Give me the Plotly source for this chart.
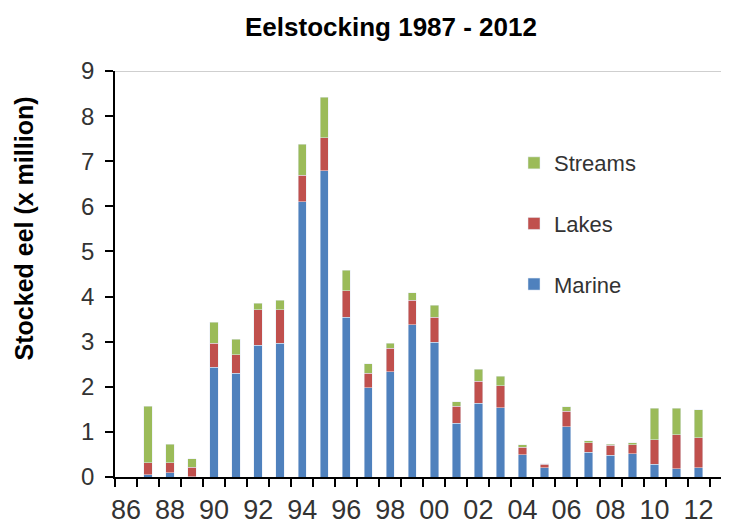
import plotly.graph_objects as go

# --- Data ---
years = list(range(1987, 2013))
marine = [0.05, 0.09, 0.01, 2.43, 2.30, 2.92, 2.96, 6.10, 6.79, 3.54, 1.98, 2.33, 3.37,
          2.99, 1.19, 1.64, 1.54, 0.49, 0.20, 1.11, 0.55, 0.48, 0.52, 0.28, 0.18, 0.21]
lakes = [0.27, 0.23, 0.21, 0.53, 0.41, 0.79, 0.75, 0.59, 0.73, 0.59, 0.32, 0.52, 0.55,
         0.55, 0.38, 0.48, 0.48, 0.17, 0.08, 0.35, 0.21, 0.22, 0.20, 0.55, 0.76, 0.66]
streams = [1.25, 0.41, 0.18, 0.47, 0.34, 0.14, 0.21, 0.69, 0.90, 0.45, 0.21, 0.11, 0.17,
           0.27, 0.10, 0.27, 0.21, 0.06, 0.01, 0.10, 0.04, 0.03, 0.04, 0.69, 0.58, 0.62]

tick_years = list(range(1986, 2013, 2))
tick_labels = ["86", "88", "90", "92", "94", "96", "98", "00", "02", "04", "06", "08", "10", "12"]

FONT = "Liberation Sans, Arial, sans-serif"

fig = go.Figure()
# stacked bottom -> top; legend rank puts Streams first
for name, vals, col, rank in [("Marine", marine, "#4F81BD", 3),
                              ("Lakes", lakes, "#C0504D", 2),
                              ("Streams", streams, "#9BBB59", 1)]:
    fig.add_trace(go.Bar(x=years, y=vals, name=name, legendgroup=name, legendrank=rank,
                         marker=dict(color=col), width=0.38))

# the page body has an 8px margin, so the figure is sized a bit smaller
fig.update_layout(
    barmode="stack",
    width=721, height=517,
    margin=dict(l=107, r=0, t=63, b=43),
    plot_bgcolor="white", paper_bgcolor="white",
    font=dict(family=FONT, color="#333333"),
    title=dict(text="<b>Eelstocking 1987 - 2012</b>", x=383 / 721, xanchor="center",
               y=1 - 19 / 517, yanchor="middle", font=dict(size=26, color="black")),
    legend=dict(x=(514 - 115) / 614, xanchor="left", y=0.825, yanchor="top",
                traceorder="grouped", tracegroupgap=29,
                font=dict(size=22, color="#333333"), bgcolor="rgba(0,0,0,0)"),
    showlegend=True,
)

fig.update_xaxes(
    range=[1985.5, 2013.38], showgrid=False, zeroline=False,
    showline=True, linecolor="black", linewidth=1.5,
    tickmode="array", tickvals=tick_years, ticktext=tick_labels, ticks="",
    tickfont=dict(size=27, color="#333333"), ticklabelstandoff=8,
    minor=dict(ticks="outside", ticklen=8, tickcolor="black", tickwidth=1.5,
               tick0=1985.5, dtick=1, showgrid=False),
)
fig.update_yaxes(
    range=[0, 9], dtick=1, showgrid=False, zeroline=False,
    showline=True, linecolor="black", linewidth=1.5,
    ticks="outside", ticklen=8, tickcolor="black", tickwidth=1.5,
    tickfont=dict(size=24, color="#333333"), ticklabelstandoff=6,
)

fig.add_shape(type="line", xref="paper", yref="y", x0=0, x1=1, y0=9, y1=9,
              line=dict(color="#BFBFBF", width=1.5))

fig.add_annotation(text="<b>Stocked eel (x million)</b>", textangle=-90,
                   xref="paper", yref="paper", x=(24 - 115) / 614, y=(481 - 230) / 410,
                   xanchor="center", yanchor="middle", showarrow=False,
                   font=dict(size=25, color="black"))

fig.write_html("out.html")
